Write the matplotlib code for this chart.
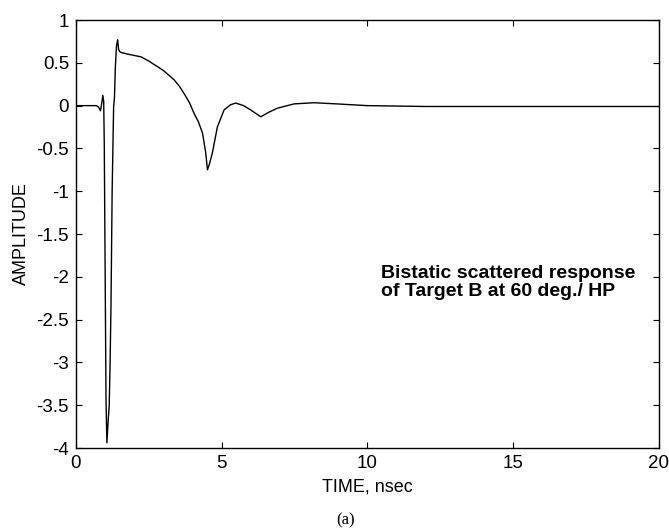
import numpy as np
import matplotlib
matplotlib.use('Agg')
import matplotlib.pyplot as plt
from matplotlib import font_manager

# narrow face for the axis text if present, plain Arial metric otherwise
names = set(f.name for f in font_manager.fontManager.ttflist)
narrow = ['Liberation Sans Narrow'] if 'Liberation Sans Narrow' in names else []
plt.rcParams['font.family'] = narrow + ['Liberation Sans', 'DejaVu Sans']

# bistatic scattered response, target B at 60 deg, HP
time_ns = [0.0, 0.70, 0.78, 0.84, 0.88, 0.92, 0.95, 0.97, 1.00, 1.03, 1.06,
           1.10, 1.14, 1.17, 1.20, 1.24, 1.29, 1.32, 1.35, 1.39, 1.43, 1.46,
           1.50, 1.56, 1.80, 2.23, 2.50, 2.80, 3.00, 3.37, 3.55, 3.71, 3.90,
           4.05, 4.20, 4.34, 4.45, 4.51, 4.58, 4.68, 4.85, 5.08, 5.30, 5.48,
           5.75, 5.99, 6.34, 6.60, 6.91, 7.48, 8.16, 8.96, 9.99, 12.0, 20.0]
amplitude = [0.0, 0.0, -0.02, -0.06, 0.02, 0.12, 0.05, -0.45, -1.95, -3.45, -3.94,
             -3.70, -3.50, -3.00, -2.35, -1.00, -0.02, 0.10, 0.45, 0.70, 0.77, 0.66,
             0.63, 0.62, 0.60, 0.57, 0.52, 0.455, 0.41, 0.30, 0.225, 0.14, 0.03,
             -0.09, -0.19, -0.32, -0.55, -0.75, -0.68, -0.55, -0.25, -0.05, 0.01, 0.03,
             0.0, -0.05, -0.13, -0.08, -0.03, 0.02, 0.034, 0.02, 0.0, -0.01, -0.01]

xticks = [0, 5, 10, 15, 20]
yticks = [1, 0.5, 0, -0.5, -1, -1.5, -2, -2.5, -3, -3.5, -4]
ytick_labels = ['1', '0.5', '0', '-0.5', '-1', '-1.5', '-2', '-2.5', '-3', '-3.5', '-4']

fig = plt.figure(figsize=(6.69, 5.30), dpi=100)
ax = fig.add_axes([0.1136, 0.1547, 0.8714, 0.8075])

ax.plot(time_ns, amplitude, color='black', lw=1.0)

ax.set_xlim(0, 20)
ax.set_ylim(-4, 1)
ax.set_xticks(xticks)
ax.set_yticks(yticks)
ax.set_yticklabels(ytick_labels)
ax.tick_params(direction='in', length=4, width=0.8, top=True, right=True,
               labelsize=13.5, colors='black')
ax.tick_params(axis='x', pad=5)
ax.tick_params(axis='y', pad=5)
for s in ax.spines.values():
    s.set_linewidth(1.0)

ax.set_xlabel('TIME, nsec', fontsize=13, labelpad=5)
ax.set_ylabel('AMPLITUDE', fontsize=13, labelpad=5)

ax.text(10.45, -2.07, 'Bistatic scattered response\nof Target B at 60 deg./ HP',
        fontsize=14, fontweight='bold', family=['Liberation Sans', 'DejaVu Sans'],
        ha='left', va='center', linespacing=1.05)

fig.text(0.516, 0.018, '(a)', fontsize=12, family='Liberation Serif',
         ha='center', va='center')

fig.savefig('out.png', dpi=100)
